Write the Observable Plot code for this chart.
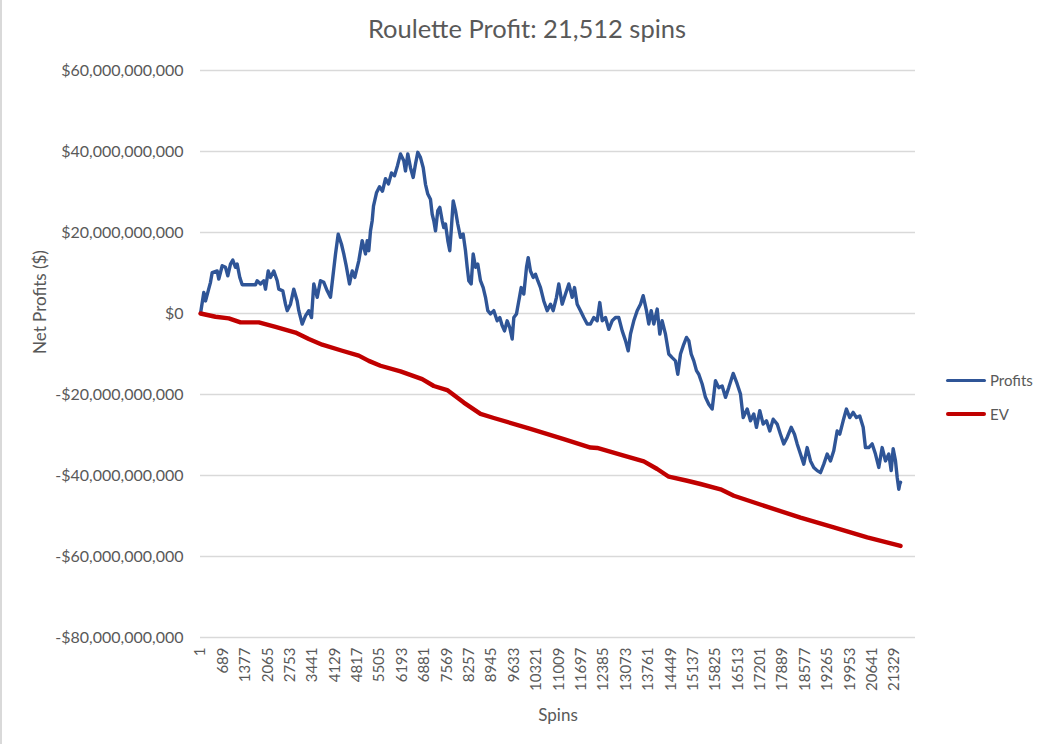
<!DOCTYPE html>
<html>
<head>
<meta charset="utf-8">
<script src="https://cdn.jsdelivr.net/npm/d3@7"></script>
<script src="https://cdn.jsdelivr.net/npm/@observablehq/plot@0.6"></script>
<style>
  html, body { margin: 0; padding: 0; background: #fff; }
  #wrap { position: relative; width: 1054px; height: 744px; overflow: hidden; font-family: Lato, "Open Sans", sans-serif; color: #595959; }
  #border { position: absolute; left: 0; top: 0; width: 2px; height: 744px; background: #d9d9d9; z-index: 5; }
  #title { position: absolute; left: 0; top: 0; width: 1054px; height: 52px; text-align: center; font-size: 25.5px; line-height: 56px; }
  #chart { position: absolute; left: 0; top: 52px; }
  .leg { position: absolute; left: 946px; font-size: 15px; display: flex; align-items: center; z-index: 5; }
  .sw { width: 40px; margin-right: 4px; border-radius: 2px; }
</style>
</head>
<body>
<div id="wrap">
  <div id="title">Roulette Profit: 21,512 spins</div>
  <div id="chart"></div>
  <div id="border"></div>
  <div class="leg" style="top:371px"><div class="sw" style="height:3px;background:#2F5597"></div>Profits</div>
  <div class="leg" style="top:405px"><div class="sw" style="height:4px;background:#C00000"></div>EV</div>
</div>
<script>
// Spin numbers and net profit (in billions of dollars)
const profitSpins = [1,101,153,237,307,359,513,562,667,768,839,921,992,1076,1127,1208,1282,1690,1742,1844,1945,1997,2081,2151,2253,2357,2406,2529,2612,2664,2765,2867,2971,3020,3125,3226,3328,3411,3482,3586,3688,3789,3894,3994,4065,4149,4231,4333,4403,4477,4579,4662,4742,4864,4969,5070,5123,5172,5224,5276,5316,5408,5501,5593,5685,5777,5869,5962,6053,6146,6247,6299,6370,6453,6536,6607,6677,6761,6844,6914,6985,7067,7120,7169,7222,7292,7354,7428,7476,7529,7600,7660,7704,7766,7836,7906,7990,8072,8143,8196,8245,8318,8380,8451,8521,8604,8687,8758,8829,8911,9013,9117,9197,9271,9342,9425,9504,9578,9628,9710,9781,9855,9935,10018,10071,10140,10224,10295,10365,10448,10549,10654,10755,10838,10939,11010,11115,11216,11318,11422,11493,11576,11677,11778,11883,11984,12086,12190,12270,12345,12445,12547,12651,12753,12854,12959,13060,13143,13213,13315,13419,13521,13603,13705,13776,13850,13930,14034,14114,14187,14289,14390,14495,14596,14667,14750,14851,14935,15005,15079,15159,15241,15312,15416,15518,15619,15724,15825,15927,16031,16133,16234,16370,16492,16594,16677,16800,16901,17002,17085,17187,17291,17393,17494,17599,17721,17822,17924,18028,18152,18253,18336,18437,18539,18643,18745,18846,18951,19052,19154,19258,19359,19460,19565,19645,19749,19850,19952,20056,20158,20259,20364,20434,20536,20641,20742,20844,20948,21049,21151,21225,21286,21357,21410,21459,21490,21512];
const profitValues = [0,5.2,3.1,5.6,7.7,10.1,10.5,8.5,11.8,11.4,9.3,12.2,13.2,11.4,12.2,8.9,7.1,7.1,8.1,7.3,8.1,6.0,10.5,8.9,10.5,8.1,6.0,5.6,2.3,0.7,2.3,6.0,3.1,0.7,-2.6,-0.6,0.7,-1.0,7.3,4.0,8.1,7.7,5.6,4.0,8.9,14.7,19.6,17.1,14.7,11.8,7.3,10.5,8.9,13.0,18.0,14.7,18.0,15.5,20.4,22.9,26.5,29.8,31.3,30.2,33.3,32.0,34.7,34.0,36.5,39.4,37.7,35.2,39.4,36.0,33.6,36.9,39.8,38.5,36.0,31.9,29.5,28.2,24.5,22.9,20.4,25.4,26.2,22.9,21.2,22.1,18.0,15.5,20.4,27.8,25.4,22.1,18.8,19.6,15.5,11.4,8.1,7.3,14.7,11.4,12.2,8.1,6.4,4.0,0.7,-0.1,0.7,-1.8,-1.0,-3.0,-4.3,-1.8,-3.5,-6.3,-1.0,-0.1,3.1,6.4,4.8,11.4,13.8,10.5,8.9,9.7,8.1,6.4,3.1,0.7,2.3,0.7,4.0,7.3,2.3,4.8,7.3,4.0,6.4,2.3,0.7,-1.0,-2.6,-2.6,-1.0,-1.8,2.7,-1.8,-1.0,-3.9,-1.8,-1.0,-1.0,-4.3,-6.7,-9.2,-5.1,-1.8,0.7,2.3,4.4,0.7,-2.6,0.7,-2.6,1.1,-5.1,-1.8,-5.1,-10.0,-10.9,-11.7,-15.0,-10.0,-7.6,-5.9,-6.7,-10.0,-11.7,-14.1,-15.0,-17.4,-20.7,-22.4,-23.6,-16.6,-18.3,-17.9,-20.7,-18.3,-14.8,-17.4,-19.9,-25.7,-23.6,-26.5,-24.8,-28.1,-24.0,-27.3,-26.5,-29.0,-26.1,-27.3,-29.8,-32.2,-30.6,-28.1,-29.8,-32.2,-34.7,-37.2,-33.1,-36.4,-38.0,-38.8,-39.3,-37.2,-34.7,-36.4,-33.9,-29.0,-29.8,-26.5,-23.6,-25.7,-24.4,-25.7,-25.3,-28.1,-33.1,-33.1,-32.2,-34.7,-38.0,-33.1,-36.4,-34.7,-38.8,-33.4,-36.4,-40.5,-43.4,-42.1,-41.7];

// Expected value (in billions of dollars)
const evSpins = [1,461,870,1229,1792,2305,2919,3328,3740,4354,4864,5172,5531,6146,6813,7169,7581,8091,8604,9013,10141,11164,11985,12191,13008,13623,14034,14391,14956,15365,15980,16389,17400,18438,19460,20488,21512];
const evValues = [0,-0.8,-1.2,-2.2,-2.2,-3.3,-4.7,-6.3,-7.7,-9.2,-10.4,-11.7,-12.9,-14.3,-16.2,-17.9,-18.9,-22.0,-24.8,-25.8,-28.5,-31.0,-33.1,-33.2,-35.1,-36.5,-38.4,-40.3,-41.3,-42.1,-43.4,-45.0,-47.7,-50.4,-52.8,-55.3,-57.4];

const xTicks = [1,689,1377,2065,2753,3441,4129,4817,5505,6193,6881,7569,8257,8945,9633,10321,11009,11697,12385,13073,13761,14449,15137,15825,16513,17201,17889,18577,19265,19953,20641,21329];
const yTicks = [-80,-60,-40,-20,0,20,40,60];

const profitData = profitSpins.map((s, i) => ({spin: s, value: profitValues[i]}));
const evData = evSpins.map((s, i) => ({spin: s, value: evValues[i]}));

const fmtDollars = d => d === 0 ? "$0" : (d < 0 ? "-" : "") + "$" + d3.format(",")(Math.abs(d) * 1e9);

const chart = Plot.plot({
  width: 1054,
  height: 692,
  marginLeft: 200,
  marginRight: 139,
  marginTop: 18,
  marginBottom: 107,
  style: {fontFamily: "Lato, 'Open Sans', sans-serif", fontSize: "15px", color: "#595959", background: "white", overflow: "visible"},
  x: {domain: [0, 21972]},
  y: {domain: [-80, 60]},
  marks: [
    Plot.gridY(yTicks, {stroke: "#d9d9d9", strokeOpacity: 1, strokeWidth: 1.3}),
    Plot.axisY(yTicks, {tickSize: 0, tickPadding: 17, tickFormat: fmtDollars, label: null, fontSize: 16}),
    Plot.axisX(xTicks, {tickSize: 0, tickPadding: 10, tickRotate: -90, tickFormat: d => String(d), label: null, fontSize: 15}),
    Plot.text(["Net Profits ($)"], {frameAnchor: "left", dx: -160, rotate: -90, fontSize: 17, fill: "#595959"}),
    Plot.text(["Spins"], {frameAnchor: "bottom", dy: 83, fontSize: 17, fill: "#595959"}),
    Plot.lineY(profitData, {x: "spin", y: "value", stroke: "#2F5597", strokeWidth: 3.4, strokeLinejoin: "round", strokeLinecap: "round"}),
    Plot.lineY(evData, {x: "spin", y: "value", stroke: "#C00000", strokeWidth: 4.4, strokeLinejoin: "round", strokeLinecap: "round"})
  ]
});
document.getElementById("chart").appendChild(chart);
</script>
</body>
</html>
